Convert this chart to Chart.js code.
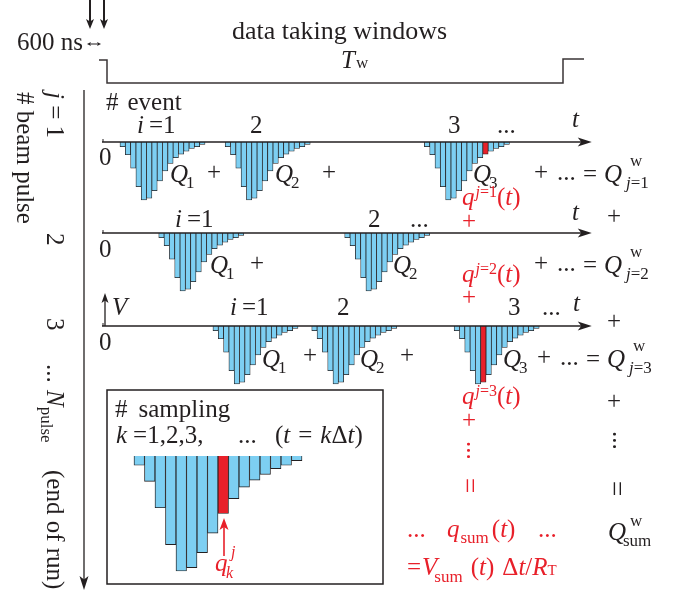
<!DOCTYPE html>
<html>
<head>
<meta charset="utf-8">
<script src="https://cdn.jsdelivr.net/npm/chart.js@4/dist/chart.umd.min.js"></script>
<style>
  html, body { margin: 0; padding: 0; background: #fff; }
  #wrap { position: relative; width: 697px; height: 606px; }
</style>
</head>
<body>
<div id="wrap"><canvas id="c" width="697" height="606"></canvas></div>
<script>
// One detector pulse sampled every Δt, normalised to its peak (negative signal)
const pulseShape = [-0.08, -0.22, -0.45, -0.77, -1.00, -0.97, -0.84, -0.67,
                    -0.50, -0.37, -0.27, -0.21, -0.16, -0.11, -0.08, -0.04];
// Event arrival times (units of Δt) inside the window, beam pulses j = 1, 2, 3
const eventTimesJ1 = [3.2, 23, 60.5];
const eventTimesJ2 = [10.5, 45.5];
const eventTimesJ3 = [20.7, 39.3, 66.1];
// Sample shown in red for each beam pulse: [event index, sample index k]
const markedJ1 = [2, 11];
const markedJ2 = null;
const markedJ3 = [2, 5];
// Sample shown in red in the enlarged single pulse
const insetMarked = 8;
// Length of the time axes (units of Δt)
const tAxisEnd = 92;

// ---- layout (pixels) ----
const W = 697, H = 606;
const T0_PX = 103, DT_PX = 5.3125;          // t = 0 and width of one Δt
const ROW_BASE = [142, 233, 326], ROW_AMP = 58;
const INSET_X0 = 134, INSET_DT = 10.5, INSET_BASE = 456, INSET_AMP = 115;

const INK = '#231f20', RED = '#e8202a', BLUE = '#7dcff2';
const FONT = '"Liberation Serif", "Times New Roman", serif';

function yScale(base, amp) {
  return { type: 'linear', display: false, bounds: 'data', min: (base - H) / amp, max: base / amp };
}
function xScale(x0, dt) {
  return { type: 'linear', display: false, bounds: 'data', offset: false, min: -x0 / dt, max: (W - x0) / dt };
}

function pulseDataset(t0, mark, xAxisID, yAxisID, thickness, bw) {
  return {
    data: pulseShape.map((v, k) => ({ x: t0 + k + 0.5, y: v })),
    backgroundColor: pulseShape.map((_, k) => (k === mark ? RED : BLUE)),
    borderColor: INK,
    borderWidth: bw,
    barThickness: thickness,
    grouped: false,
    xAxisID, yAxisID
  };
}

const rows = [
  { times: eventTimesJ1, mark: markedJ1, y: 'y1' },
  { times: eventTimesJ2, mark: markedJ2, y: 'y2' },
  { times: eventTimesJ3, mark: markedJ3, y: 'y3' }
];
const datasets = [];
rows.forEach(r => r.times.forEach((t0, e) => {
  const mark = r.mark && r.mark[0] === e ? r.mark[1] : -1;
  datasets.push(pulseDataset(t0, mark, 'x', r.y, DT_PX, 0.75));
}));
datasets.push(pulseDataset(0, insetMarked, 'xs', 'ys', INSET_DT, 0.9));

// ---- drawing helpers ----
function drawText(ctx, it) {
  const size = it.size || 25;
  ctx.save();
  ctx.translate(it.x, it.y);
  if (it.rot) ctx.rotate(it.rot);
  ctx.textBaseline = 'alphabetic';
  let cx = 0;
  for (const p of it.parts) {
    const s = p.sz || ((p.sub || p.sup) ? Math.round(size * 0.68) : size);
    ctx.font = (p.i ? 'italic ' : '') + s + 'px ' + FONT;
    ctx.fillStyle = p.c || it.c || INK;
    const dy = (p.sub ? size * 0.24 : p.sup ? -size * 0.36 : 0) + (p.dy || 0);
    cx += p.dx || 0;
    ctx.fillText(p.t, cx, dy);
    if (!p.stay) cx += ctx.measureText(p.t).width;
  }
  ctx.restore();
}
function arrow(ctx, x1, y1, x2, y2, head, half, lw, color) {
  const a = Math.atan2(y2 - y1, x2 - x1);
  ctx.save();
  ctx.strokeStyle = color; ctx.fillStyle = color; ctx.lineWidth = lw;
  ctx.beginPath();
  ctx.moveTo(x1, y1);
  ctx.lineTo(x2 - Math.cos(a) * head * 0.7, y2 - Math.sin(a) * head * 0.7);
  ctx.stroke();
  ctx.translate(x2, y2); ctx.rotate(a);
  ctx.beginPath();
  ctx.moveTo(0, 0); ctx.lineTo(-head, -half); ctx.lineTo(-head * 0.75, 0); ctx.lineTo(-head, half);
  ctx.closePath(); ctx.fill();
  ctx.restore();
}
function poly(ctx, pts, lw, color) {
  ctx.save(); ctx.strokeStyle = color; ctx.lineWidth = lw; ctx.lineJoin = 'miter';
  ctx.beginPath(); pts.forEach((p, i) => i ? ctx.lineTo(p[0], p[1]) : ctx.moveTo(p[0], p[1]));
  ctx.stroke(); ctx.restore();
}

const ROT = Math.PI / 2;

function qj(x, y, n) {          // red q^{j=n}(t)
  return { x, y, c: RED, parts: [
    { t: 'q', i: 1 }, { t: 'j', i: 1, sz: 16, dy: -8, dx: 1 }, { t: '=' + n, sz: 16, dy: -8 },
    { t: '(' }, { t: 't', i: 1 }, { t: ')' } ] };
}
function qw(x, y, n) {          // black  + ... = Q^w_{j=n}
  return [
    { x, y: y - 2, parts: [{ t: '+' }] },
    { x: x + 23, y: y - 2, parts: [{ t: '...' }] },
    { x: x + 49, y, parts: [{ t: '=' }] },
    { x: x + 70, y, parts: [{ t: 'Q', i: 1 }] },
    { x: x + 96, y: y - 16, size: 17, parts: [{ t: 'w' }] },
    { x: x + 92, y: y + 6, size: 17, parts: [{ t: 'j', i: 1 }, { t: '=' + n }] }
  ];
}
function Q(x, y, n) {
  return { x, y, parts: [{ t: 'Q', i: 1 }, { t: String(n), sub: 1, dx: -2 }] };
}
function eq1(x, y) {
  return { x, y, parts: [{ t: 'i', i: 1 }, { t: '=1', dx: 5 }] };
}

const labels = [
  { x: 232, y: 39, size: 26, parts: [{ t: 'data taking windows' }] },
  { x: 341, y: 68, parts: [{ t: 'T', i: 1 }, { t: 'w', sz: 17, dx: 1 }] },
  { x: 17, y: 50, parts: [{ t: '600 ns' }] },
  { x: 106, y: 110, parts: [{ t: '#' }, { t: 'event', dx: 9 }] },

  // beam pulse j = 1
  eq1(137, 133), { x: 250, y: 133, parts: [{ t: '2' }] }, { x: 448, y: 133, parts: [{ t: '3' }] },
  { x: 497, y: 133, parts: [{ t: '...' }] }, { x: 572, y: 127, parts: [{ t: 't', i: 1 }] },
  { x: 99, y: 165, parts: [{ t: '0' }] },
  Q(170, 182, 1), { x: 207, y: 180, parts: [{ t: '+' }] },
  Q(275, 182, 2), { x: 322, y: 180, parts: [{ t: '+' }] },
  Q(473, 182, 3), ...qw(534, 182, 1),
  qj(462, 205, 1), { x: 462, y: 229, c: RED, parts: [{ t: '+' }] },

  // beam pulse j = 2
  { x: 572, y: 220, parts: [{ t: 't', i: 1 }] }, { x: 607, y: 224, parts: [{ t: '+' }] },
  eq1(175, 227), { x: 368, y: 227, parts: [{ t: '2' }] }, { x: 410, y: 227, parts: [{ t: '...' }] },
  { x: 99, y: 257, parts: [{ t: '0' }] },
  Q(210, 273, 1), { x: 250, y: 271, parts: [{ t: '+' }] },
  Q(393, 273, 2), ...qw(534, 273, 2),
  qj(462, 282, 2), { x: 462, y: 305, c: RED, parts: [{ t: '+' }] },

  // beam pulse j = 3
  { x: 607, y: 329, parts: [{ t: '+' }] },
  { x: 112, y: 315, parts: [{ t: 'V', i: 1 }] },
  eq1(230, 315), { x: 337, y: 315, parts: [{ t: '2' }] }, { x: 508, y: 315, parts: [{ t: '3' }] },
  { x: 542, y: 315, parts: [{ t: '...' }] }, { x: 573, y: 311, parts: [{ t: 't', i: 1 }] },
  { x: 99, y: 350, parts: [{ t: '0' }] },
  Q(262, 367, 1), { x: 303, y: 363, parts: [{ t: '+' }] },
  Q(360, 367, 2), { x: 400, y: 363, parts: [{ t: '+' }] },
  Q(503, 367, 3), ...qw(537, 367, 3),
  qj(462, 404, 3), { x: 462, y: 428, c: RED, parts: [{ t: '+' }] },
  { x: 607, y: 409, parts: [{ t: '+' }] },

  // sums over all beam pulses
  { x: 467, y: 441, rot: ROT, c: RED, parts: [{ t: '...' }] },
  { x: 613, y: 431, rot: ROT, parts: [{ t: '...' }] },
  { x: 461, y: 478, rot: ROT, size: 27, c: RED, parts: [{ t: '=' }] },
  { x: 608, y: 481, rot: ROT, size: 27, parts: [{ t: '=' }] },
  { x: 407, y: 537, c: RED, parts: [{ t: '...' }] },
  { x: 447, y: 537, c: RED, parts: [{ t: 'q', i: 1 }, { t: 'sum', sz: 17, dy: 6, dx: 1 }, { t: '(', dx: 3 }, { t: 't', i: 1 }, { t: ')' }] },
  { x: 538, y: 537, c: RED, parts: [{ t: '...' }] },
  { x: 608, y: 540, parts: [{ t: 'Q', i: 1 }] },
  { x: 630, y: 526, size: 17, parts: [{ t: 'w' }] },
  { x: 623, y: 546, size: 17, parts: [{ t: 'sum' }] },
  { x: 407, y: 575, c: RED, parts: [{ t: '=' }, { t: 'V', i: 1, dx: 1 }, { t: 'sum', sz: 17, dy: 7, dx: -3 },
      { t: '(', dx: 8 }, { t: 't', i: 1 }, { t: ')' }, { t: 'Δ', dx: 8 }, { t: 't', i: 1 }, { t: '/' },
      { t: 'R', i: 1 }, { t: 'T', sz: 15 }] },

  // enlarged pulse
  { x: 115, y: 417, parts: [{ t: '#' }, { t: 'sampling', dx: 11 }] },
  { x: 116, y: 443, parts: [{ t: 'k', i: 1 }, { t: '=1,2,3,', dx: 6 }] },
  { x: 238, y: 443, parts: [{ t: '...' }] },
  { x: 275, y: 443, parts: [{ t: '(' }, { t: 't', i: 1 }, { t: '=', dx: 8 }, { t: 'k', i: 1, dx: 8 }, { t: 'Δ' }, { t: 't', i: 1 }, { t: ')' }] },
  { x: 215, y: 571, c: RED, parts: [{ t: 'q', i: 1 }] },
  { x: 231, y: 557, size: 16, c: RED, parts: [{ t: 'j', i: 1 }] },
  { x: 226, y: 578, size: 16, c: RED, parts: [{ t: 'k', i: 1 }] },

  // beam pulse counter on the left
  { x: 17, y: 92, rot: ROT, parts: [{ t: '#' }, { t: ' beam pulse' }] },
  { x: 47, y: 92, rot: ROT, parts: [{ t: 'j', i: 1 }, { t: ' = 1' }] },
  { x: 47, y: 233, rot: ROT, parts: [{ t: '2' }] },
  { x: 47, y: 318, rot: ROT, parts: [{ t: '3' }] },
  { x: 47, y: 364, rot: ROT, parts: [{ t: '...' }] },
  { x: 47, y: 390, rot: ROT, parts: [{ t: 'N', i: 1 }, { t: 'pulse', sz: 17, dy: 6 }] },
  { x: 47, y: 470, rot: ROT, parts: [{ t: '(end of run)' }] }
];

const decor = {
  id: 'decor',
  afterDatasetsDraw(chart) {
    const ctx = chart.ctx;
    const xs = chart.scales.x;
    // time axes of the three beam pulses
    ['y1', 'y2', 'y3'].forEach(id => {
      const y = chart.scales[id].getPixelForValue(0);
      const x0 = xs.getPixelForValue(0), x1 = xs.getPixelForValue(tAxisEnd);
      poly(ctx, [[x0 - 1, y], [x1 - 6, y]], 1.3, INK);
      poly(ctx, [[x0, y - 3], [x0, y]], 1, INK);
      arrow(ctx, x1 - 8, y, x1, y, 14, 4.5, 1.3, INK);
    });
    // voltage arrow on the third axis
    const y3 = chart.scales.y3.getPixelForValue(0);
    arrow(ctx, 105, y3, 105, 293, 10, 3.5, 1.3, INK);
    // beam bunches and their spacing
    arrow(ctx, 90, 0, 90, 29, 10, 4, 2, INK);
    arrow(ctx, 104, 0, 104, 29, 10, 4, 2, INK);
    arrow(ctx, 94, 44, 87, 44, 4, 2, 1, INK);
    arrow(ctx, 94, 44, 101, 44, 4, 2, 1, INK);
    // data taking window
    poly(ctx, [[99, 60], [107, 60], [107, 83], [563, 83], [563, 59], [584, 59]], 1.5, '#3a3536');
    // beam pulse counter
    arrow(ctx, 84, 90, 84, 590, 14, 4.5, 1.3, INK);
    // frame of the enlarged pulse
    ctx.save(); ctx.strokeStyle = INK; ctx.lineWidth = 1.5;
    ctx.strokeRect(107, 390, 276, 194); ctx.restore();
    arrow(ctx, 224, 556, 224, 518, 12, 4.5, 1.6, RED);
    labels.forEach(l => drawText(ctx, l));
  }
};

new Chart(document.getElementById('c'), {
  type: 'bar',
  data: { datasets },
  options: {
    responsive: false,
    animation: false,
    events: [],
    layout: { padding: 0 },
    plugins: { legend: { display: false }, tooltip: { enabled: false }, title: { display: false } },
    scales: {
      x: xScale(T0_PX, DT_PX),
      xs: xScale(INSET_X0, INSET_DT),
      y1: yScale(ROW_BASE[0], ROW_AMP),
      y2: yScale(ROW_BASE[1], ROW_AMP),
      y3: yScale(ROW_BASE[2], ROW_AMP),
      ys: yScale(INSET_BASE, INSET_AMP)
    }
  },
  plugins: [decor]
});
</script>
</body>
</html>
